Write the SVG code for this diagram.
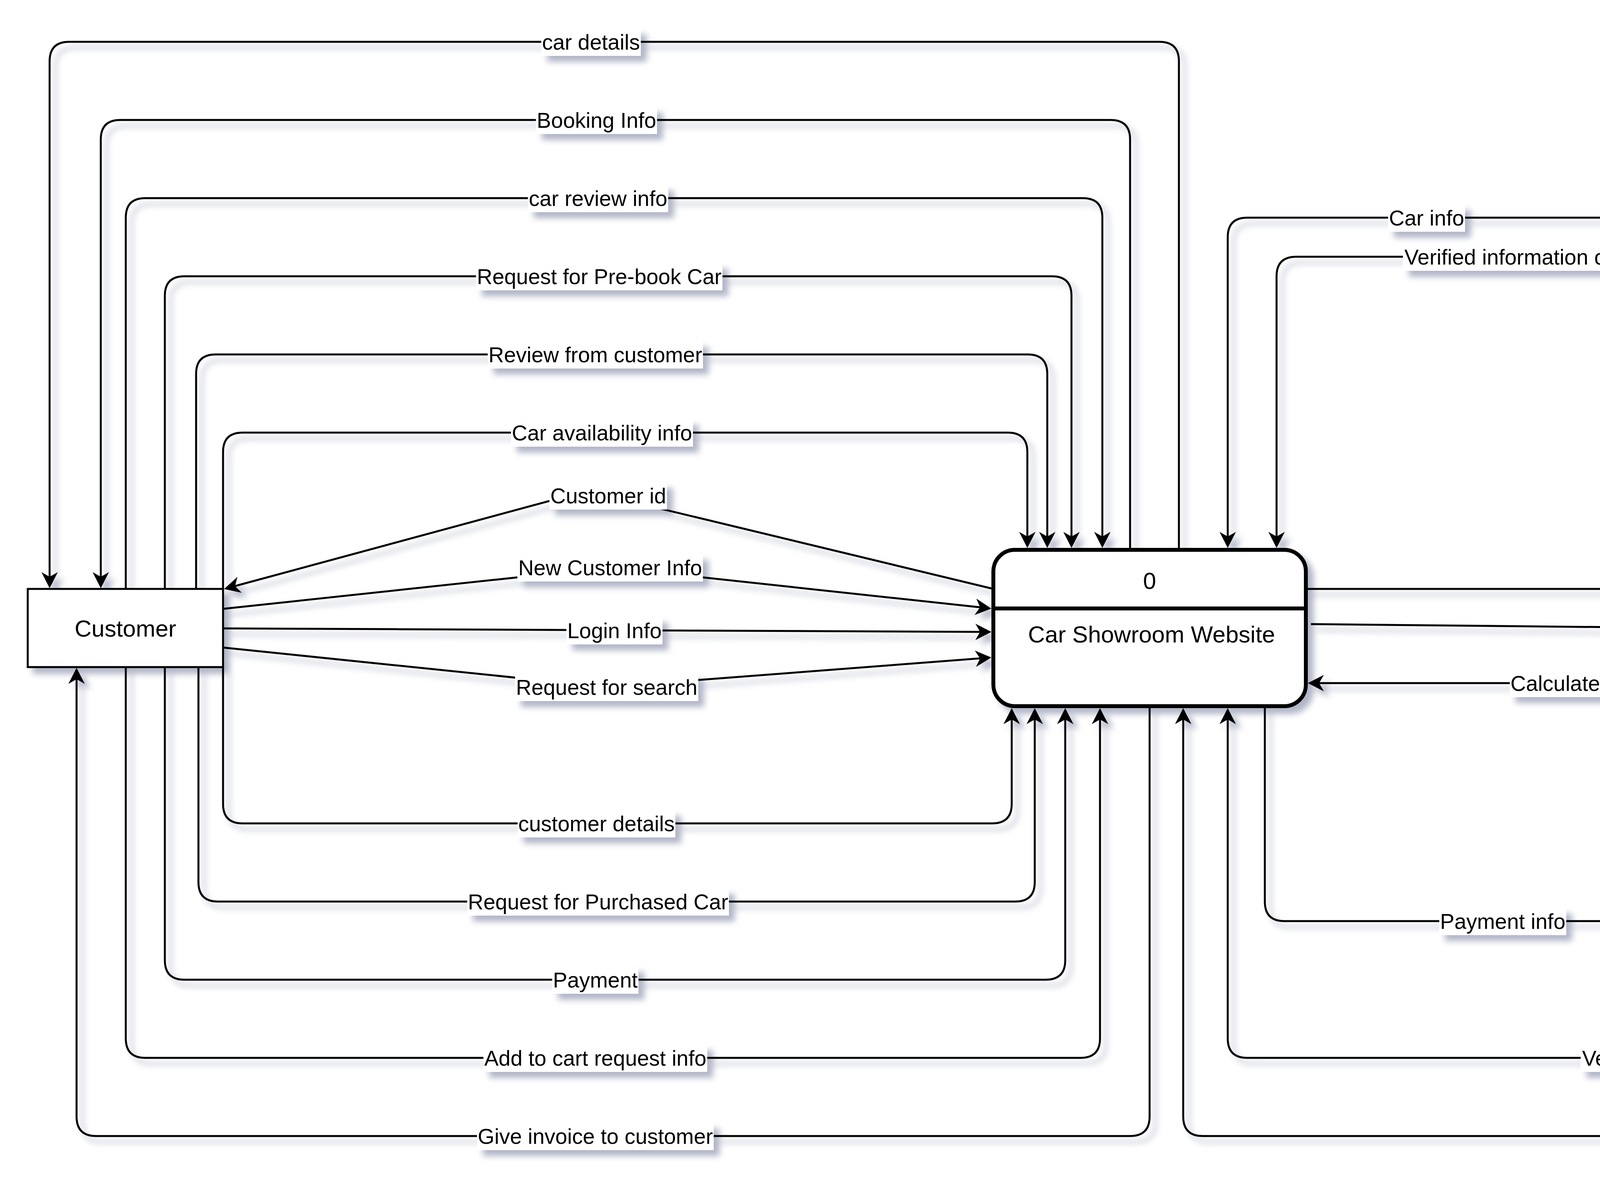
<svg xmlns="http://www.w3.org/2000/svg" width="5595" height="3040" viewBox="0 0 5595 3040">
<style>
.e{fill:none;stroke:#000;stroke-width:5;marker-end:url(#arr)}
.lb{fill:#fff;stroke:none}
.lt{font-family:"Liberation Sans",Arial,Helvetica,sans-serif;font-size:55px;text-anchor:middle;fill:#000}
.nd{fill:#fff;stroke:#000;stroke-width:5}
.nt{font-family:"Liberation Sans",Arial,Helvetica,sans-serif;font-size:60px;text-anchor:middle;fill:#000}
</style>
<defs>
<marker id="arr" markerUnits="userSpaceOnUse" viewBox="-25 -25 50 50" markerWidth="50" markerHeight="50" refX="0" refY="0" orient="auto">
<path d="M20,0 L-21,-21 L-9,0 L-21,21 Z" fill="#000"/>
</marker>
<filter id="sh" x="-5%" y="-5%" width="110%" height="110%" color-interpolation-filters="sRGB">
<feGaussianBlur in="SourceAlpha" stdDeviation="8"/>
<feOffset dx="15" dy="15" result="b"/>
<feFlood flood-color="#3D4574" flood-opacity="0.4"/>
<feComposite in2="b" operator="in"/>
<feMerge><feMergeNode/><feMergeNode in="SourceGraphic"/></feMerge>
</filter>
</defs>
<rect width="5595" height="3040" fill="#fff"/>
<g filter="url(#sh)">
<g id="connectors">
<path class="e" d="M3018,1407 V157 Q3018,107 2968,107 H177 Q127,107 127,157 V1485"/>
<path class="e" d="M2893,1407 V357 Q2893,307 2843,307 H308 Q258,307 258,357 V1485"/>
<path class="e" d="M322,1507 V557 Q322,507 372,507 H2772 Q2822,507 2822,557 V1382"/>
<path class="e" d="M422,1507 V757 Q422,707 472,707 H2693 Q2743,707 2743,757 V1382"/>
<path class="e" d="M502,1507 V957 Q502,907 552,907 H2631 Q2681,907 2681,957 V1382"/>
<path class="e" d="M571,1507 V1157 Q571,1107 621,1107 H2580 Q2630,1107 2630,1157 V1382"/>
<path class="e" d="M2543,1507 L1502,1256 L593,1502"/>
<path class="e" d="M571,1558 L1562,1452 L2518,1555"/>
<path class="e" d="M571,1608 L2518,1617"/>
<path class="e" d="M571,1657 L1553,1758 L2518,1684"/>
<path class="e" d="M571,1707 V2057 Q571,2107 621,2107 H2540 Q2590,2107 2590,2057 V1832"/>
<path class="e" d="M508,1707 V2257 Q508,2307 558,2307 H2599 Q2649,2307 2649,2257 V1832"/>
<path class="e" d="M422,1707 V2457 Q422,2507 472,2507 H2677 Q2727,2507 2727,2457 V1832"/>
<path class="e" d="M322,1707 V2657 Q322,2707 372,2707 H2766 Q2816,2707 2816,2657 V1832"/>
<path class="e" d="M2943,1807 V2857 Q2943,2907 2893,2907 H246 Q196,2907 196,2857 V1729"/>
<path class="e" d="M5006,557 H3193 Q3143,557 3143,607 V1382"/>
<path class="e" d="M5006,657 H3318 Q3268,657 3268,707 V1382"/>
<path class="e" d="M3343,1507 H5207 Q5257,1507 5257,1457 V729"/>
<path class="e" d="M3356,1597 L4330,1607 H5332 Q5382,1607 5382,1657 V2285"/>
<path class="e" d="M5258,2307 V1798 Q5258,1748 5208,1748 H3368"/>
<path class="e" d="M3238,1807 V2307 Q3238,2357 3288,2357 H4984"/>
<path class="e" d="M5133,2507 V2657 Q5133,2707 5083,2707 H3193 Q3143,2707 3143,2657 V1832"/>
<path class="e" d="M5258,2507 V2857 Q5258,2907 5208,2907 H3079 Q3029,2907 3029,2857 V1832"/>
<g id="labels">
<rect class="lb" x="1385.5" y="73" width="255" height="70"/><text class="lt" x="1513" y="127">car details</text>
<rect class="lb" x="1372" y="273" width="310" height="70"/><text class="lt" x="1527" y="327">Booking Info</text>
<rect class="lb" x="1351.5" y="473" width="359" height="70"/><text class="lt" x="1531" y="527">car review info</text>
<rect class="lb" x="1218.5" y="673" width="631" height="70"/><text class="lt" x="1534" y="727">Request for Pre-book Car</text>
<rect class="lb" x="1248.5" y="873" width="551" height="70"/><text class="lt" x="1524" y="927">Review from customer</text>
<rect class="lb" x="1308" y="1073" width="466" height="70"/><text class="lt" x="1541" y="1127">Car availability info</text>
<rect class="lb" x="1406.5" y="1234" width="301" height="70"/><text class="lt" x="1557" y="1288">Customer id</text>
<rect class="lb" x="1324.5" y="1418" width="475" height="70"/><text class="lt" x="1562" y="1472">New Customer Info</text>
<rect class="lb" x="1450" y="1579" width="246" height="70"/><text class="lt" x="1573" y="1633">Login Info</text>
<rect class="lb" x="1318.5" y="1724" width="469" height="70"/><text class="lt" x="1553" y="1778">Request for search</text>
<rect class="lb" x="1325" y="2073" width="404" height="70"/><text class="lt" x="1527" y="2127">customer details</text>
<rect class="lb" x="1196" y="2273" width="670" height="70"/><text class="lt" x="1531" y="2327">Request for Purchased Car</text>
<rect class="lb" x="1413.5" y="2473" width="221" height="70"/><text class="lt" x="1524" y="2527">Payment</text>
<rect class="lb" x="1237.5" y="2673" width="573" height="70"/><text class="lt" x="1524" y="2727">Add to cart request info</text>
<rect class="lb" x="1221" y="2873" width="606" height="70"/><text class="lt" x="1524" y="2927">Give invoice to customer</text>
<rect class="lb" x="3553.5" y="523" width="197" height="70"/><text class="lt" x="3652" y="577">Car info</text>
<rect class="lb" x="3591.5" y="623" width="735" height="70"/><text class="lt" x="3959" y="677">Verified information of Review</text>
<rect class="lb" x="4551.5" y="1473" width="291" height="70"/><text class="lt" x="4697" y="1527">Review Info</text>
<rect class="lb" x="4626.5" y="1573" width="181" height="70"/><text class="lt" x="4717" y="1627">Bill info</text>
<rect class="lb" x="3865" y="1714" width="346" height="70"/><text class="lt" x="4038" y="1768">Calculated bill</text>
<rect class="lb" x="3684.5" y="2323" width="325" height="70"/><text class="lt" x="3847" y="2377">Payment info</text>
<rect class="lb" x="4046.5" y="2673" width="527" height="70"/><text class="lt" x="4310" y="2727">Verified Payment info</text>
<rect class="lb" x="4164" y="2873" width="178" height="70"/><text class="lt" x="4253" y="2927">Invoice</text>
</g>
</g>
<g id="customer">
<rect class="nd" x="71" y="1507" width="500" height="200"/>
<text class="nt" x="321" y="1629">Customer</text>
</g>
<g id="admin">
<rect class="nd" x="5006" y="507" width="500" height="200"/>
<text class="nt" x="5256" y="629">Admin</text>
</g>
<g id="accounts">
<rect class="nd" x="5006" y="2307" width="500" height="200"/>
<text class="nt" x="5256" y="2429">Accounts</text>
</g>
<g id="process0">
<rect x="2543" y="1407" width="800" height="400" rx="55" ry="55" fill="#fff" stroke="#000" stroke-width="10"/>
<line x1="2543" y1="1557" x2="3343" y2="1557" stroke="#000" stroke-width="10"/>
<text class="nt" x="2943" y="1507">0</text>
<text class="nt" x="2948" y="1644">Car Showroom Website</text>
</g>
</g>
</svg>
